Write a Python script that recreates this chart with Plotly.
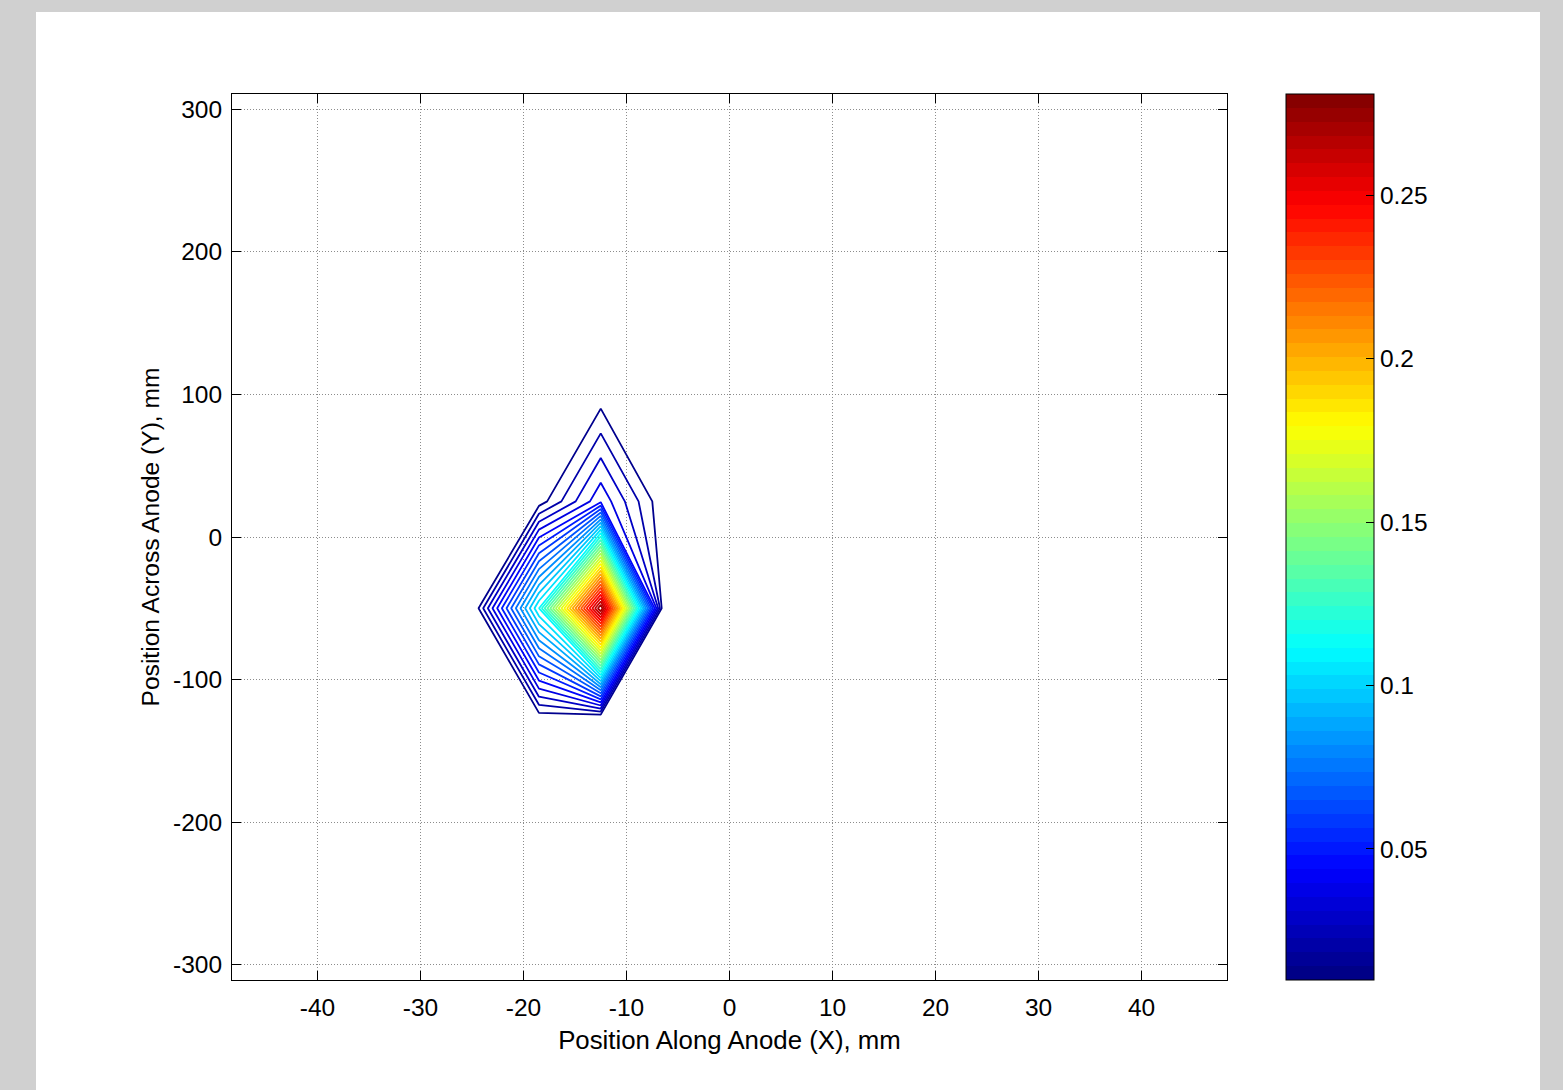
import plotly.graph_objects as go

# ---------------- data ----------------
# sensor grid positions (mm)
X_NODES_MM = [-30.5, -24.5, -18.5, -12.5, -6.5, -0.5]
Y_NODES_MM = [-200, -125, -50, 25, 100, 175]

# measured values, one row per Y node (columns follow X_NODES_MM)
Z_AT_Y_M200 = [0.0099, 0.0099, 0.0099, 0.0099, 0.0099, 0.0099]
Z_AT_Y_M125 = [0.0099, 0.0099, 0.0152, 0.0159, 0.0099, 0.0099]
Z_AT_Y_M50 = [0.0099, 0.0152, 0.1150, 0.2810, 0.0137, 0.0099]
Z_AT_Y_P25 = [0.0099, 0.0099, 0.0131, 0.0457, 0.0118, 0.0099]
Z_AT_Y_P100 = [0.0099, 0.0099, 0.0099, 0.0131, 0.0099, 0.0099]
Z_AT_Y_P175 = [0.0099, 0.0099, 0.0099, 0.0099, 0.0099, 0.0099]

Z_MIN = 0.0099
Z_MAX = 0.281
N_LEVELS = 35

X_TICK_VALUES = [-40, -30, -20, -10, 0, 10, 20, 30, 40]
X_TICK_TEXT = ["-40", "-30", "-20", "-10", "0", "10", "20", "30", "40"]
Y_TICK_VALUES = [-300, -200, -100, 0, 100, 200, 300]
Y_TICK_TEXT = ["-300", "-200", "-100", "0", "100", "200", "300"]
CB_TICK_VALUES = [0.05, 0.1, 0.15, 0.2, 0.25]
CB_TICK_TEXT = ["0.05", "0.1", "0.15", "0.2", "0.25"]

X_TITLE = "Position Along Anode (X), mm"
Y_TITLE = "Position Across Anode (Y), mm"

# ---------------- styling ----------------
W, H = 1563, 1090
ML, MR, MT, MB = 232, 336, 94, 110
PW = W - ML - MR
PH = H - MT - MB
FAMILY = "Liberation Sans, Arial, Helvetica, sans-serif"
FONT = dict(family=FAMILY, size=24.5, color="black")
XTITLE_FONT = dict(family=FAMILY, size=25.8, color="black")
YTITLE_FONT = dict(family=FAMILY, size=24.6, color="black")


def jet(f):
    f = min(max(f, 0.0), 1.0)
    r = min(max(min(4 * f - 1.5, -4 * f + 4.5), 0.0), 1.0)
    g = min(max(min(4 * f - 0.5, -4 * f + 3.5), 0.0), 1.0)
    b = min(max(min(4 * f + 0.5, -4 * f + 2.5), 0.0), 1.0)
    return "rgb(%d,%d,%d)" % (round(r * 255), round(g * 255), round(b * 255))


Z = [Z_AT_Y_M200, Z_AT_Y_M125, Z_AT_Y_M50, Z_AT_Y_P25, Z_AT_Y_P100, Z_AT_Y_P175]

level_step = (Z_MAX - Z_MIN) / (N_LEVELS + 1)
level_start = Z_MIN + level_step
level_end = Z_MAX - level_step

# plotly maps the line colorscale onto [start - step/2, end - step/2];
# re-sample jet so that each level gets MATLAB's colour for [Z_MIN, Z_MAX]
n_samples = 65
line_scale = []
for i in range(n_samples):
    u = i / (n_samples - 1)
    lev = level_start - level_step / 2 + u * (N_LEVELS - 1) * level_step
    line_scale.append([u, jet((lev - Z_MIN) / (Z_MAX - Z_MIN))])

# 64-band colour bar (MATLAB jet(64))
bar_scale = []
for i in range(64):
    c = jet((i + 0.5) / 64)
    bar_scale.append([i / 64, c])
    bar_scale.append([(i + 1) / 64, c])

fig = go.Figure()

fig.add_trace(go.Contour(
    x=X_NODES_MM,
    y=Y_NODES_MM,
    z=Z,
    autocontour=False,
    contours=dict(coloring="lines", start=level_start, end=level_end, size=level_step),
    line=dict(width=1.8, smoothing=0),
    colorscale=line_scale,
    zmin=Z_MIN,
    zmax=Z_MAX,
    showscale=False,
    hoverinfo="skip",
))

# colour bar carrier
fig.add_trace(go.Scatter(
    x=[None, None], y=[None, None], mode="markers", showlegend=False, hoverinfo="skip",
    marker=dict(
        color=[Z_MIN, Z_MAX], cmin=Z_MIN, cmax=Z_MAX, colorscale=bar_scale, showscale=True,
        colorbar=dict(
            x=(1286 - ML) / PW, xanchor="left",
            y=1, yanchor="top",
            thicknessmode="pixels", thickness=88,
            lenmode="fraction", len=1,
            xpad=0, ypad=0,
            outlinewidth=1, outlinecolor="black",
            tickvals=CB_TICK_VALUES, ticktext=CB_TICK_TEXT,
            ticks="inside", ticklen=8, tickwidth=1, tickcolor="black",
            tickfont=FONT,
        ),
    ),
))

axis_common = dict(
    showline=True, linecolor="black", linewidth=1, mirror="ticks",
    ticks="inside", ticklen=9, tickwidth=1, tickcolor="black",
    showgrid=True, gridcolor="#8c8c8c", griddash="1px,2px", gridwidth=1,
    zeroline=False, tickfont=FONT,
)

fig.update_xaxes(
    range=[-48.3, 48.3], tickvals=X_TICK_VALUES, ticktext=X_TICK_TEXT,
    ticklabelstandoff=6,
    title=dict(text=X_TITLE, font=XTITLE_FONT, standoff=10), **axis_common,
)
fig.update_yaxes(
    range=[-310.7, 310.7], tickvals=Y_TICK_VALUES, ticktext=Y_TICK_TEXT,
    ticklabelstandoff=4,
    title=dict(text=Y_TITLE, font=YTITLE_FONT, standoff=6), **axis_common,
)

fig.add_shape(
    type="rect", xref="paper", yref="paper", layer="below",
    x0=(36 - ML) / PW, x1=(1540 - ML) / PW,
    y0=(H - MB - H) / PH, y1=(H - MB - 12) / PH,
    fillcolor="white", line=dict(width=0),
)

fig.update_layout(
    width=W, height=H,
    margin=dict(l=ML, r=MR, t=MT, b=MB, pad=0, autoexpand=False),
    paper_bgcolor="#d0d0d0",
    plot_bgcolor="white",
    font=FONT,
    showlegend=False,
)

fig.write_html(
    "out.html",
    config={"displayModeBar": False},
    post_script="document.body.style.margin='0';document.body.style.overflow='hidden';",
)
